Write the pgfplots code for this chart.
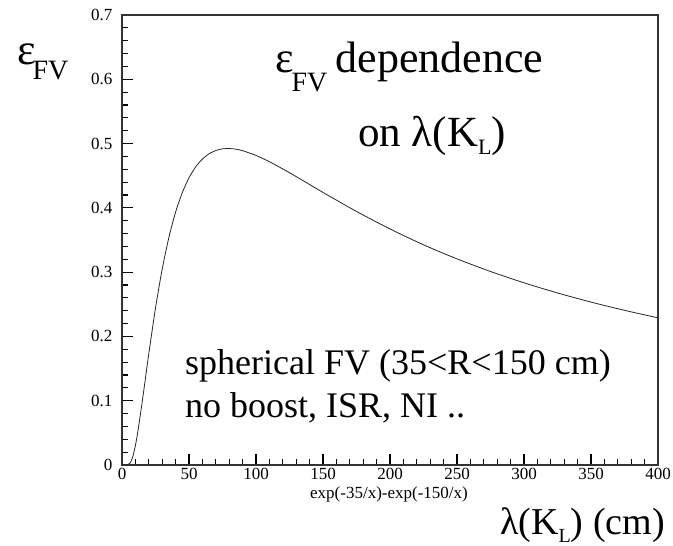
\documentclass[border=0pt]{standalone}
\usepackage{fontspec}
\setmainfont{Liberation Serif}
\usepackage{pgfplots}
\pgfplotsset{compat=1.18}
\begin{document}
\begin{tikzpicture}
\path[use as bounding box] (0,0) rectangle (673pt,546pt);
\begin{axis}[
  at={(122pt,81pt)}, anchor=south west,
  scale only axis, width=536pt, height=450pt,
  xmin=0, xmax=400, ymin=0, ymax=0.7,
  xtick={0,50,...,400}, ytick={0,0.1,...,0.7},
  minor x tick num=4, minor y tick num=4,
  xtick pos=bottom, ytick pos=left,
  xtick align=inside, ytick align=inside,
  major tick length=11pt, minor tick length=6pt,
  major tick style={black, line width=1.2pt},
  minor tick style={black, line width=1.2pt},
  axis line style={black!80, line width=1.4pt},
  /pgf/number format/assume math mode=true,
  /pgf/number format/fixed,
  ticklabel style={font=\fontsize{17}{19}\selectfont},
  yticklabel style={xshift=-6pt, /pgf/number format/precision=1},
  xticklabel style={yshift=0pt},
]
\addplot[black!85, line width=0.8pt, smooth, tension=0.4] coordinates {
(0,0) (2,0) (4,0.0002) (6,0.0029) (8,0.0126) (10,0.0302) (12,0.0541)
(15,0.0969) (17.5,0.1351) (20,0.1732) (25,0.2441) (30,0.3047) (35,0.3541)
(40,0.3934) (45,0.4237) (50,0.4468) (55,0.4638) (60,0.4759) (65,0.4842)
(70,0.4892) (75,0.4918) (80,0.4923) (85,0.4913) (90,0.4889) (100,0.4816)
(110,0.4718) (120,0.4605) (130,0.4486) (140,0.4363) (150,0.4240)
(175,0.3944) (200,0.3672) (225,0.3425) (250,0.3206) (275,0.3010)
(300,0.2834) (325,0.2676) (350,0.2534) (375,0.2406) (400,0.2289)
};
\end{axis}
% y label
\node[anchor=base west, inner sep=0pt] at (17pt,481pt)
  {\fontsize{44}{46}\selectfont ε\kern-3pt\raisebox{-15pt}{\fontsize{28}{30}\selectfont FV}};
% title
\node[anchor=base west, inner sep=0pt] at (275pt,473pt)
  {\fontsize{44}{50}\selectfont ε\kern-2pt\raisebox{-19pt}{\fontsize{28}{30}\selectfont FV}\kern8pt dependence};
\node[anchor=base west, inner sep=0pt] at (358pt,399pt)
  {\fontsize{43}{50}\selectfont on λ(K\raisebox{-8pt}{\fontsize{22}{24}\selectfont L})};
% inner text
\node[anchor=base west, inner sep=0pt] at (185pt,171pt)
  {\fontsize{36}{40}\selectfont spherical FV (35<R<150 cm)};
\node[anchor=base west, inner sep=0pt] at (185pt,128pt)
  {\fontsize{36}{40}\selectfont no boost, ISR, NI ..};
% x labels
\node[anchor=base, inner sep=0pt] at (389pt,47pt)
  {\fontsize{17}{19}\selectfont exp(-35/x)-exp(-150/x)};
\node[anchor=base west, inner sep=0pt] at (500pt,11pt)
  {\fontsize{38}{42}\selectfont λ(K\raisebox{-8pt}{\fontsize{20}{22}\selectfont L}) (cm)};
\end{tikzpicture}
\end{document}
